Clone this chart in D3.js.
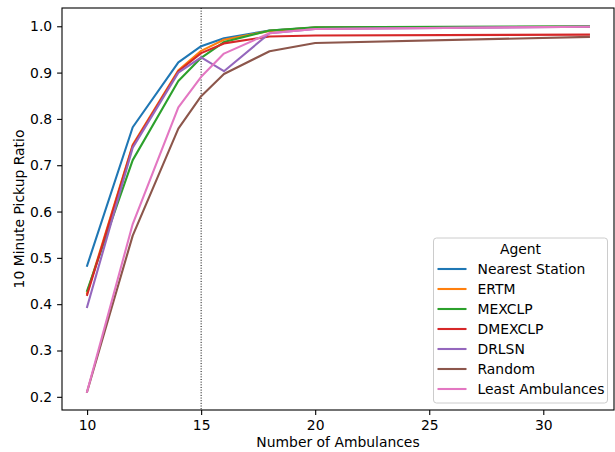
<!DOCTYPE html>
<html>
<head>
<meta charset="utf-8">
<script src="https://cdn.jsdelivr.net/npm/d3@7"></script>
<style>
  body { margin: 0; background: #fff; }
  text { font-family: "DejaVu Sans", sans-serif; fill: #000; }
</style>
</head>
<body>
<div id="chart"></div>
<script>
// ambulance counts on the x axis
const ambulances = [10, 12, 14, 15, 16, 18, 20, 32];

const agents = ["Nearest Station", "ERTM", "MEXCLP", "DMEXCLP", "DRLSN", "Random", "Least Ambulances"];
const colors = ["#1f77b4", "#ff7f0e", "#2ca02c", "#d62728", "#9467bd", "#8c564b", "#e377c2"];

// 10 minute pickup ratio per agent
const nearestStation = [0.483, 0.782, 0.922, 0.957, 0.974, 0.991, 0.997, 0.999];
const ertm = [0.424, 0.744, 0.905, 0.947, 0.971, 0.990, 0.997, 0.999];
const mexclp = [0.429, 0.711, 0.882, 0.932, 0.966, 0.991, 0.998, 1.000];
const dmexclp = [0.420, 0.742, 0.903, 0.942, 0.963, 0.978, 0.980, 0.982];
const drlsn = [0.394, 0.738, 0.900, 0.933, 0.903, 0.985, 0.994, 0.999];
const random = [0.211, 0.548, 0.779, 0.849, 0.897, 0.946, 0.964, 0.977];
const leastAmbulances = [0.211, 0.573, 0.825, 0.891, 0.941, 0.985, 0.994, 0.999];

const seriesValues = [nearestStation, ertm, mexclp, dmexclp, drlsn, random, leastAmbulances];

const xTicks = [10, 15, 20, 25, 30];
const yTicks = [0.2, 0.3, 0.4, 0.5, 0.6, 0.7, 0.8, 0.9, 1.0];
const markerX = 15;

const W = 615, H = 452;
const margin = { top: 8, right: 1, bottom: 42, left: 62 };
const width = W - margin.left - margin.right;
const height = H - margin.top - margin.bottom;
const fontSize = 13.9;

const svg = d3.select("#chart").append("svg")
    .attr("width", W)
    .attr("height", H);

const g = svg.append("g")
    .attr("transform", "translate(" + margin.left + "," + margin.top + ")");

// matplotlib style 5% padding on both axes
const xr = d3.extent(ambulances);
const xPad = (xr[1] - xr[0]) * 0.05;
const allVals = seriesValues.flat();
const yr = d3.extent(allVals);
const yPad = (yr[1] - yr[0]) * 0.05;

const x = d3.scaleLinear()
    .domain([xr[0] - xPad, xr[1] + xPad])
    .range([0, width]);

const y = d3.scaleLinear()
    .domain([yr[0] - yPad, yr[1] + yPad])
    .range([height, 0]);

const tickSize = 4.9;

const xAxis = d3.axisBottom(x).tickValues(xTicks).tickFormat(d3.format("d")).tickSize(tickSize).tickPadding(4.9);
const yAxis = d3.axisLeft(y).tickValues(yTicks).tickFormat(d3.format(".1f")).tickSize(tickSize).tickPadding(4.9);

const gx = g.append("g")
    .attr("transform", "translate(0," + height + ")")
    .call(xAxis);
const gy = g.append("g").call(yAxis);

[gx, gy].forEach(a => {
    a.select(".domain").remove();
    a.selectAll(".tick line").attr("stroke", "#000").attr("stroke-width", 1.1);
    a.selectAll(".tick text").attr("font-size", fontSize).attr("font-family", "DejaVu Sans").attr("fill", "#000");
});

// vertical dotted marker
g.append("line")
    .attr("x1", x(markerX)).attr("x2", x(markerX))
    .attr("y1", 0).attr("y2", height)
    .attr("stroke", "#000")
    .attr("stroke-width", 1)
    .attr("stroke-dasharray", "1,1.65");

const line = d3.line()
    .x((d, i) => x(ambulances[i]))
    .y(d => y(d));

g.selectAll(".series")
    .data(seriesValues)
    .enter()
    .append("path")
    .attr("class", "series")
    .attr("fill", "none")
    .attr("stroke", (d, i) => colors[i])
    .attr("stroke-width", 2.1)
    .attr("stroke-linejoin", "round")
    .attr("stroke-linecap", "square")
    .attr("d", d => line(d));

// frame
g.append("rect")
    .attr("width", width)
    .attr("height", height)
    .attr("fill", "none")
    .attr("stroke", "#000")
    .attr("stroke-width", 1.1);

// axis labels
g.append("text")
    .attr("x", width / 2)
    .attr("y", height + 37)
    .attr("text-anchor", "middle")
    .attr("font-size", fontSize)
    .text("Number of Ambulances");

g.append("text")
    .attr("transform", "rotate(-90)")
    .attr("x", -height / 2)
    .attr("y", -margin.left + 24)
    .attr("text-anchor", "middle")
    .attr("font-size", fontSize)
    .text("10 Minute Pickup Ratio");

// legend
const lg = svg.append("g").attr("transform", "translate(433.5,238)");
lg.append("rect")
    .attr("width", 174)
    .attr("height", 165)
    .attr("rx", 3)
    .attr("fill", "#fff")
    .attr("fill-opacity", 0.8)
    .attr("stroke", "#ccc")
    .attr("stroke-width", 1);

lg.append("text")
    .attr("x", 87)
    .attr("y", 16)
    .attr("text-anchor", "middle")
    .attr("font-size", fontSize)
    .text("Agent");

const items = lg.selectAll(".item")
    .data(agents)
    .enter()
    .append("g")
    .attr("class", "item")
    .attr("transform", (d, i) => "translate(0," + (31 + i * 20) + ")");

items.append("line")
    .attr("x1", 4).attr("x2", 33)
    .attr("stroke", (d, i) => colors[i])
    .attr("stroke-width", 2.1);

items.append("text")
    .attr("x", 44)
    .attr("y", 5)
    .attr("font-size", fontSize)
    .text(d => d);
</script>
</body>
</html>
